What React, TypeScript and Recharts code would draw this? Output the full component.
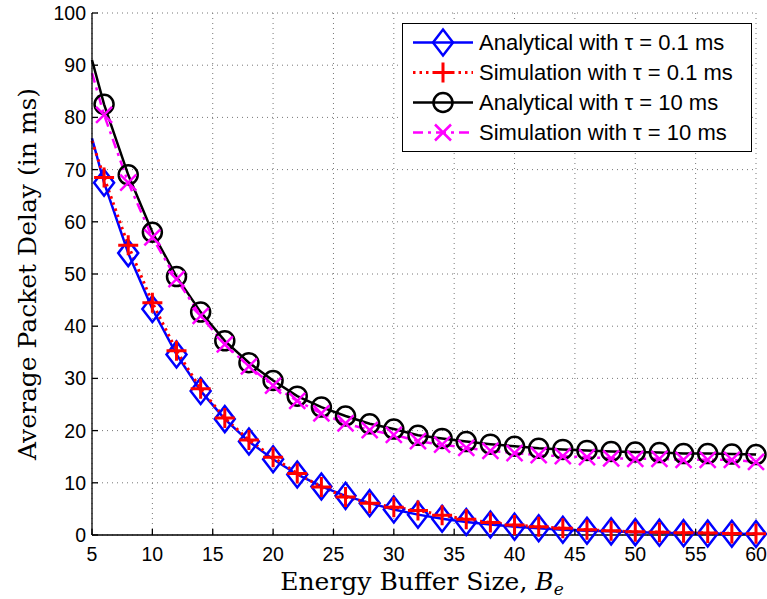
import React from 'react';
import { LineChart, Line, XAxis, YAxis, CartesianGrid } from 'recharts';

// buffer sizes (first point has no marker, it only starts the curve)
const bufferSizes = [
  5, 6, 8, 10, 12, 14, 16, 18, 20, 22, 24, 26, 28, 30, 32, 34, 36, 38, 40, 42,
  44, 46, 48, 50, 52, 54, 56, 58, 60,
];
const analyticalFast = [
  76, 67.5, 54, 43.3, 34.6, 27.6, 22.2, 17.9, 14.5, 11.6, 9.3, 7.5, 6.1, 4.9,
  3.9, 3.1, 2.5, 2.0, 1.6, 1.3, 1.0, 0.8, 0.7, 0.55, 0.45, 0.35, 0.3, 0.25, 0.2,
];
const simulationFast = [
  75.5, 68.5, 55.5, 44.5, 35.3, 28, 22.4, 18.2, 14.9, 11.8, 9.2, 7.3, 6.1, 5.3,
  4.7, 3.8, 3.0, 2.4, 1.9, 1.6, 1.3, 1.0, 0.8, 0.6, 0.55, 0.45, 0.4, 0.3, 0.25,
];
const analyticalSlow = [
  91, 82.5, 69, 58, 49.5, 42.7, 37.2, 33, 29.6, 26.6, 24.5, 22.8, 21.3, 20.3,
  19.1, 18.5, 17.9, 17.4, 17.0, 16.6, 16.4, 16.2, 16.0, 15.9, 15.8, 15.6, 15.6,
  15.5, 15.4,
];
const simulationSlow = [
  88.5, 80.5, 67.5, 57, 49, 42, 36.5, 32.3, 28.6, 25.7, 23.3, 21.4, 20.1, 19.2,
  18, 17.3, 16.7, 16.1, 15.7, 15.3, 15.1, 14.9, 14.7, 14.6, 14.6, 14.4, 14.4,
  14.4, 14.0,
];
const xTicks = [5, 10, 15, 20, 25, 30, 35, 40, 45, 50, 55, 60];
const yTicks = [0, 10, 20, 30, 40, 50, 60, 70, 80, 90, 100];

const data = bufferSizes.map((x, i) => ({
  x,
  aFast: analyticalFast[i],
  sFast: simulationFast[i],
  aSlow: analyticalSlow[i],
  sSlow: simulationSlow[i],
}));

type MarkerKind = 'diamond' | 'plus' | 'circle' | 'cross';

const SERIES: {
  key: string;
  name: string;
  color: string;
  dash?: string;
  width: number;
  marker: MarkerKind;
}[] = [
  { key: 'aFast', name: 'Analytical with τ = 0.1 ms', color: '#0000ff', width: 2.5, marker: 'diamond' },
  { key: 'sFast', name: 'Simulation with τ = 0.1 ms', color: '#ff0000', dash: '2.5 4', width: 3, marker: 'plus' },
  { key: 'aSlow', name: 'Analytical with τ = 10 ms', color: '#000000', width: 2.5, marker: 'circle' },
  { key: 'sSlow', name: 'Simulation with τ = 10 ms', color: '#ff00ff', dash: '10 5 3 5', width: 2.5, marker: 'cross' },
];

const TICK_FONT = '"Liberation Sans", Arial, sans-serif';
const LABEL_FONT = '"DejaVu Serif", "Liberation Serif", serif';

function Marker({ kind, cx, cy, color }: { kind: MarkerKind; cx: number; cy: number; color: string }) {
  if (kind === 'diamond') {
    return (
      <path
        d={`M${cx},${cy - 13} L${cx + 10},${cy} L${cx},${cy + 13} L${cx - 10},${cy} Z`}
        fill="none"
        stroke={color}
        strokeWidth={2.5}
      />
    );
  }
  if (kind === 'circle') {
    return <circle cx={cx} cy={cy} r={9.5} fill="none" stroke={color} strokeWidth={2.5} />;
  }
  if (kind === 'plus') {
    return (
      <path
        d={`M${cx - 10},${cy} L${cx + 10},${cy} M${cx},${cy - 10} L${cx},${cy + 10}`}
        stroke={color}
        strokeWidth={3}
      />
    );
  }
  return (
    <path
      d={`M${cx - 8},${cy - 8} L${cx + 8},${cy + 8} M${cx - 8},${cy + 8} L${cx + 8},${cy - 8}`}
      stroke={color}
      strokeWidth={2.5}
    />
  );
}

function LegendBox() {
  return (
    <div
      style={{
        position: 'absolute',
        left: 402,
        top: 23,
        width: 350,
        height: 129,
        border: '1.5px solid #000',
        background: '#fff',
        boxSizing: 'border-box',
      }}
    >
      <svg width={347} height={126} style={{ display: 'block' }}>
        {SERIES.map((s, i) => {
          const cy = 18.5 + i * 30;
          return (
            <g key={s.key}>
              <line x1={10} x2={70} y1={cy} y2={cy} stroke={s.color} strokeWidth={s.width} strokeDasharray={s.dash} />
              <Marker kind={s.marker} cx={40} cy={cy} color={s.color} />
              <text x={76} y={cy} dy="0.36em" fontSize={22} fontFamily={TICK_FONT} fill="#000">
                {s.name}
              </text>
            </g>
          );
        })}
      </svg>
    </div>
  );
}

function YLabel(props: any) {
  const vb = props.viewBox;
  const cx = vb.x + 36;
  const cy = vb.y + vb.height / 2;
  return (
    <text
      x={cx}
      y={cy}
      transform={`rotate(-90 ${cx} ${cy})`}
      textAnchor="middle"
      fontSize={25}
      fontFamily={LABEL_FONT}
      fill="#000"
    >
      Average Packet Delay (in ms)
    </text>
  );
}

function XLabel(props: any) {
  const vb = props.viewBox;
  const cx = vb.x + vb.width / 2 - 2;
  return (
    <text
      x={cx}
      y={vb.y + 55}
      textAnchor="middle"
      fontSize={25}
      fontFamily={LABEL_FONT}
      fill="#000"
    >
      Energy Buffer Size,{' '}
      <tspan fontStyle="italic">B</tspan>
      <tspan fontStyle="italic" fontSize={17} dy={5}>e</tspan>
    </text>
  );
}

const noLabel = () => <g />;

export default function App() {
  return (
    <div style={{ position: 'absolute', left: 0, top: 0, width: 767, height: 599, background: '#fff' }}>
      <LineChart width={767} height={599} data={data} margin={{ top: 13, right: 11, bottom: 0, left: 0 }}>
        <CartesianGrid stroke="#777" strokeDasharray="1 4" />
        <XAxis
          dataKey="x"
          type="number"
          domain={[5, 60]}
          ticks={xTicks}
          height={64}
          tickSize={-6}
          tickMargin={18}
          stroke="#000"
          strokeWidth={1.3}
          tick={{ fontSize: 19.5, fontFamily: TICK_FONT, fill: '#000' }}
          label={<XLabel />}
        />
        <XAxis
          xAxisId="top"
          orientation="top"
          dataKey="x"
          type="number"
          domain={[5, 60]}
          ticks={xTicks}
          height={0}
          tickSize={-6}
          stroke="#000"
          strokeWidth={1.3}
          tick={noLabel}
        />
        <YAxis
          type="number"
          domain={[0, 100]}
          ticks={yTicks}
          width={92}
          tickSize={-6}
          tickMargin={12}
          stroke="#000"
          strokeWidth={1.3}
          tick={{ fontSize: 19.5, fontFamily: TICK_FONT, fill: '#000' }}
          label={<YLabel />}
        />
        <YAxis
          yAxisId="right"
          orientation="right"
          type="number"
          domain={[0, 100]}
          ticks={yTicks}
          width={0}
          tickSize={-6}
          stroke="#000"
          strokeWidth={1.3}
          tick={noLabel}
        />
        {SERIES.map((s) => (
          <Line
            key={s.key}
            dataKey={s.key}
            name={s.name}
            type="linear"
            stroke={s.color}
            strokeWidth={s.width}
            strokeDasharray={s.dash}
            isAnimationActive={false}
            activeDot={false}
            dot={(p: any) => (
              <g key={`${s.key}-${p.index}`}>
                {p.index === 0 ? null : <Marker kind={s.marker} cx={p.cx} cy={p.cy} color={s.color} />}
              </g>
            )}
          />
        ))}
      </LineChart>
      <LegendBox />
    </div>
  );
}
